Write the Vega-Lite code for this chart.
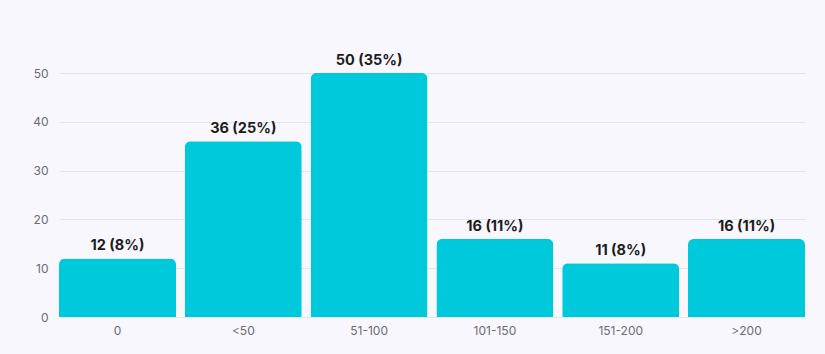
{
  "$schema": "https://vega.github.io/schema/vega-lite/v6.json",
  "width": 746,
  "height": 244,
  "autosize": {"type": "none"},
  "padding": {"left": 59, "top": 73, "right": 20, "bottom": 37},
  "background": "#f7f7fd",
  "config": {
    "view": {"stroke": null},
    "font": "Inter",
    "axis": {"labelFont": "Inter", "labelColor": "#6b6b73", "labelFontSize": 12, "gridColor": "#e4e4ee", "domain": false, "ticks": false}
  },
  "data": {
    "values": [
      {"range": "0", "count": 12, "label": "12 (8%)"},
      {"range": "<50", "count": 36, "label": "36 (25%)"},
      {"range": "51-100", "count": 50, "label": "50 (35%)"},
      {"range": "101-150", "count": 16, "label": "16 (11%)"},
      {"range": "151-200", "count": 11, "label": "11 (8%)"},
      {"range": ">200", "count": 16, "label": "16 (11%)"}
    ]
  },
  "encoding": {
    "x": {
      "field": "range", "type": "nominal", "sort": null,
      "scale": {"paddingInner": 0.07, "paddingOuter": 0},
      "axis": {"title": null, "labelAngle": 0, "labelPadding": 8, "grid": false}
    },
    "y": {
      "field": "count", "type": "quantitative",
      "scale": {"domain": [0, 50], "nice": false},
      "axis": {"title": null, "values": [0, 10, 20, 30, 40, 50], "labelPadding": 11, "grid": true}
    }
  },
  "layer": [
    {"mark": {"type": "bar", "color": "#00c9db", "cornerRadiusTopLeft": 6, "cornerRadiusTopRight": 6}},
    {"mark": {"type": "text", "baseline": "bottom", "dy": -5, "fontSize": 14.5, "fontWeight": "bold", "color": "#1c1c1c", "clip": false},
     "encoding": {"text": {"field": "label"}}}
  ]
}
